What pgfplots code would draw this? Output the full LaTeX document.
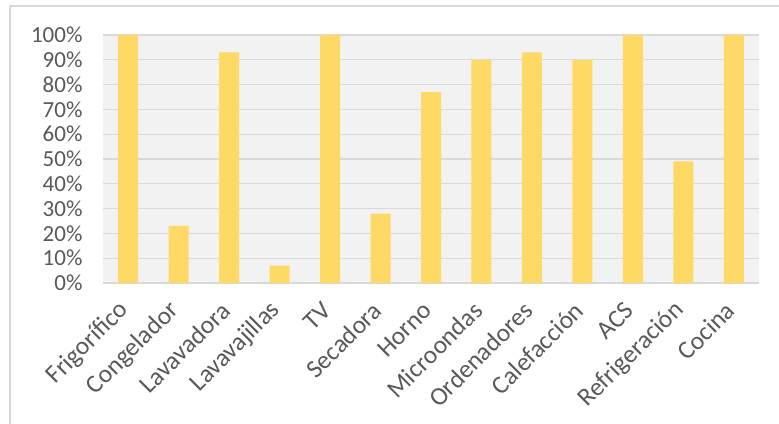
\documentclass[border=0pt]{standalone}
\usepackage{pgfplots}
\pgfplotsset{compat=1.18}
\usepackage{fontspec}
\setmainfont{Carlito}
\definecolor{barc}{HTML}{FFD966}
\definecolor{txt}{HTML}{595959}
\definecolor{gridc}{HTML}{D9D9D9}
\definecolor{bgc}{HTML}{F2F2F2}
\begin{document}
\begin{tikzpicture}
\useasboundingbox (0pt,0pt) rectangle (779pt,-423pt);
\draw[gridc, line width=1.5pt] (10pt,-460pt) -- (10pt,-6pt) -- (820pt,-6pt);
\begin{axis}[
  at={(103pt,-283pt)}, anchor=south west,
  scale only axis, width=656pt, height=248pt,
  xmin=-0.5, xmax=12.5, ymin=0, ymax=100,
  axis background/.style={fill=bgc},
  ybar, bar width=20pt,
  axis line style={draw=none},
  ymajorgrids, xmajorgrids=false, grid style={draw=gridc, line width=1.3pt},
  ytick={0,10,...,100},
  yticklabel={\pgfmathprintnumber{\tick}\%},
  /pgf/number format/assume math mode=true,
  xtick=data,
  xticklabels={Frigorífico,Congelador,Lavavadora,Lavavajillas,TV,Secadora,Horno,Microondas,Ordenadores,Calefacción,ACS,Refrigeración,Cocina},
  major tick length=0pt,
  yticklabel style={font=\fontsize{23}{24}\selectfont, text=txt, xshift=-17pt},
  xticklabel style={font=\fontsize{25.5}{26}\selectfont, text=txt, yshift=-21pt, xshift=-1pt, rotate=45, anchor=east},
  enlarge x limits=false,
]
\addplot[fill=barc, draw=none] coordinates {(0,100) (1,23) (2,93) (3,7) (4,100) (5,28) (6,77) (7,90) (8,93) (9,90) (10,100) (11,49) (12,100)};
\end{axis}
\end{tikzpicture}
\end{document}
